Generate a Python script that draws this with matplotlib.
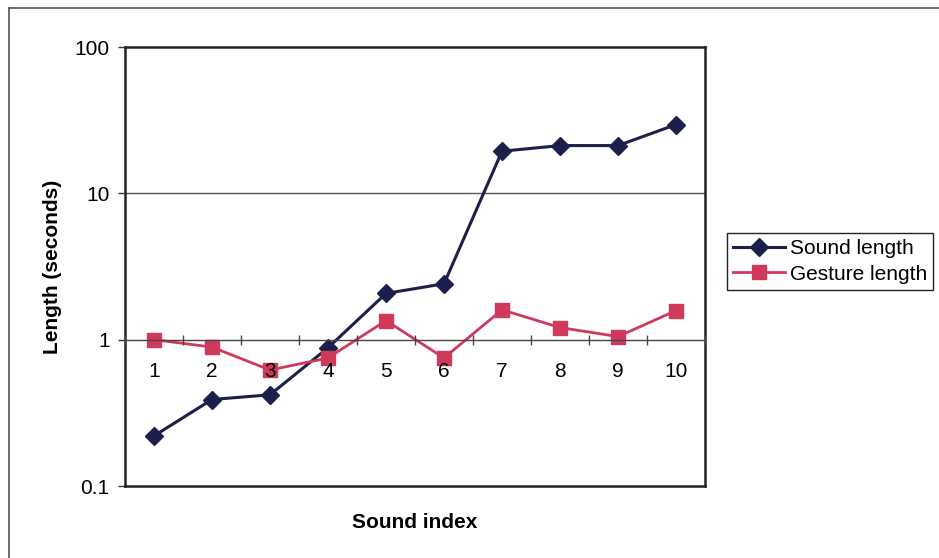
import matplotlib
matplotlib.use("Agg")
import matplotlib.pyplot as plt
from matplotlib.lines import Line2D
from matplotlib.ticker import FixedLocator, NullLocator, FixedFormatter

plt.rcParams['font.family'] = ['Liberation Sans', 'DejaVu Sans']

sound_index = [1, 2, 3, 4, 5, 6, 7, 8, 9, 10]
sound_length = [0.22, 0.39, 0.42, 0.88, 2.07, 2.41, 19.4, 21.2, 21.2, 29.5]
gesture_length = [1.0, 0.89, 0.62, 0.75, 1.35, 0.75, 1.60, 1.21, 1.05, 1.58]
y_ticks = [0.1, 1, 10, 100]
y_tick_labels = ["0.1", "1", "10", "100"]

navy = "#1c1f4c"
pink = "#cf3a5c"
fs = 15

fig = plt.figure(figsize=(9.39, 5.58), dpi=100)
ax = fig.add_axes([125 / 939, 1 - 486 / 558, 580 / 939, 439 / 558])
ax.set_axisbelow(False)

ax.set_yscale('log')
ax.set_ylim(0.1, 100)
ax.set_xlim(0.5, 10.5)

# gridline at 10
ax.axhline(10, color="#555555", lw=1.0, zorder=1)

ax.plot(sound_index, sound_length, color=navy, lw=2.2, marker='D',
        markersize=9.5, markerfacecolor=navy, markeredgecolor=navy,
        label="Sound length", zorder=2)
ax.plot(sound_index, gesture_length, color=pink, lw=2.0, marker='s',
        markersize=10.5, markerfacecolor=pink, markeredgecolor=pink,
        label="Gesture length", zorder=2.1)

# y axis
ax.yaxis.set_major_locator(FixedLocator(y_ticks))
ax.yaxis.set_major_formatter(FixedFormatter(y_tick_labels))
ax.yaxis.set_minor_locator(NullLocator())
ax.tick_params(axis='y', which='major', direction='out', length=5, width=1,
               labelsize=fs, pad=6, color="#333333")

# category axis crossing at 1
for s in ['top', 'right', 'left']:
    ax.spines[s].set_linewidth(1.8)
    ax.spines[s].set_color("#222222")
ax.spines['bottom'].set_position(('data', 1))
ax.spines['bottom'].set_linewidth(1.0)
ax.spines['bottom'].set_color("#444444")
ax.set_xticks(sound_index)
ax.set_xticklabels([str(i) for i in sound_index])
ax.set_xticks([i + 0.5 for i in range(0, 11)], minor=True)
ax.tick_params(axis='x', which='major', length=0, labelsize=fs, pad=16)
ax.tick_params(axis='x', which='minor', direction='inout', length=7, width=1,
               color="#444444")

# plot area bottom border
ax.plot([0, 1], [0, 0], transform=ax.transAxes, color="#222222", lw=1.8,
        clip_on=False, zorder=5)

ax.set_ylabel("Length (seconds)", fontsize=fs, fontweight='bold', labelpad=9)
fig.text(415 / 939, 1 - 522 / 558, "Sound index", fontsize=fs,
         fontweight='bold', ha='center', va='center')

leg = fig.legend(handles=[
    Line2D([], [], color=navy, lw=2.2, marker='D', markersize=9.5,
           markerfacecolor=navy, markeredgecolor=navy),
    Line2D([], [], color=pink, lw=2.0, marker='s', markersize=10.5,
           markerfacecolor=pink, markeredgecolor=pink)],
    labels=["Sound length", "Gesture length"],
    loc='upper left', bbox_to_anchor=(727 / 939, 1 - 233 / 558),
    fontsize=fs, frameon=True, fancybox=False, framealpha=1,
    edgecolor="#222222", borderpad=0.3, handlelength=2.5,
    handletextpad=0.2, labelspacing=0.3, borderaxespad=0)
leg.get_frame().set_linewidth(1.0)

# chart area border
fig.add_artist(Line2D([9 / 939, 1.0], [1 - 8 / 558, 1 - 8 / 558],
                      transform=fig.transFigure, color="#555555", lw=1.2))
fig.add_artist(Line2D([9 / 939, 9 / 939], [0.0, 1 - 8 / 558],
                      transform=fig.transFigure, color="#555555", lw=1.2))

fig.savefig("out.png", dpi=100)
